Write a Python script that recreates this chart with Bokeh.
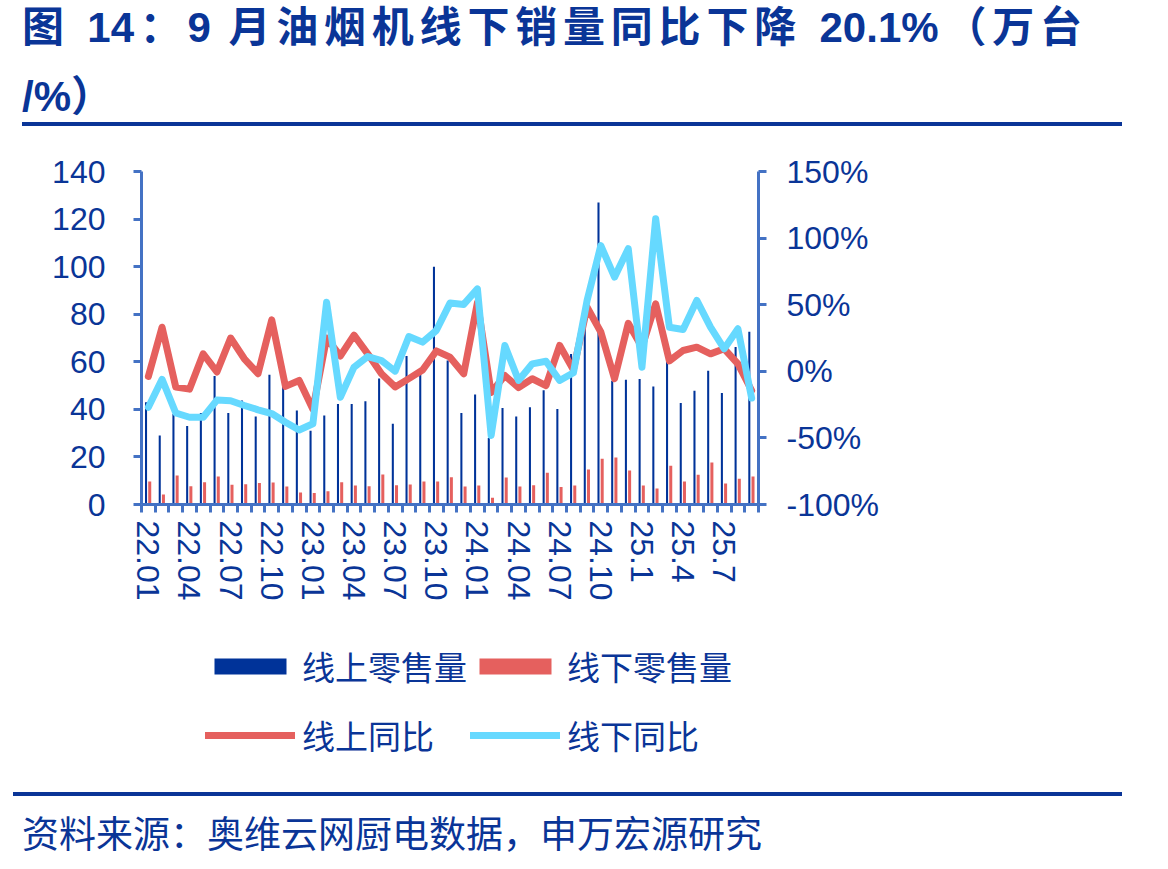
from bokeh.plotting import figure
from bokeh.models import (Range1d, LinearAxis, FixedTicker, PrintfTickFormatter,
                          Legend, LegendItem, ColumnDataSource, Div)
from bokeh.layouts import column
from bokeh.transform import dodge
from bokeh.embed import file_html
from bokeh.resources import INLINE

# ---------------- data ----------------
months = [f"{y}.{m:02d}" for y in (22, 23, 24) for m in range(1, 13)] + \
         [f"25.{m:02d}" for m in range(1, 10)]

tick_labels = ["22.01", "22.04", "22.07", "22.10", "23.01", "23.04", "23.07", "23.10",
               "24.01", "24.04", "24.07", "24.10", "25.1", "25.4", "25.7"]

online_sales = [43, 29, 38, 33, 38.5, 54, 38.5, 43.7, 37, 54.5, 50, 39.5,
                31, 37.4, 42.2, 42.3, 43.4, 53, 33.9, 62.4, 56, 100, 60.5, 38.5,
                46.2, 28, 40.6, 37, 40.9, 48, 40.2, 63.3, 80, 127, 52, 52.4,
                52.8, 49.6, 62, 42.7, 47.8, 56.2, 46.9, 66.2, 72.6]

offline_sales = [9.7, 4.2, 12.2, 7.7, 9.4, 11.8, 8.3, 8.5, 9.0, 9.2, 7.6, 5.0,
                 4.8, 5.6, 9.4, 8.0, 7.7, 12.6, 8.1, 8.4, 9.7, 9.7, 11.5, 7.6,
                 8.0, 2.8, 11.4, 7.6, 8.1, 13.3, 7.4, 8.0, 14.7, 19.2, 19.8, 14.3,
                 8.0, 6.7, 16.3, 9.7, 12.5, 17.7, 8.8, 10.8, 11.8]

online_yoy = [-3.9, 33.1, -11.9, -13.4, 13.1, -0.5, 25.0, 9.4, -1.8, 38.6, -11.3, -6.9,
              -28.5, 25.0, 11.5, 27.2, 13.1, -1.9, -11.7, -5.5, 1.0, 15.3, 10.6, -1.9,
              51.5, -16.0, -3.2, -12.2, -5.6, -10.7, 19.4, 1.2, 48.1, 29.5, -5.6, 36.0,
              18.0, 50.7, 7.8, 15.6, 18.1, 13.1, 16.9, 5.6, -14.4]

offline_yoy = [-27.0, -6.0, -31.3, -34.5, -34.5, -21.6, -22.1, -25.7, -28.9, -31.7, -38.2, -44.1,
               -39.4, 51.9, -19.5, 3.1, 11.1, 8.1, 0.1, 26.1, 21.9, 30.6, 51.2, 50.2,
               61.9, -48.2, 19.4, -6.9, 5.6, 7.5, -6.9, -1.1, 53.2, 94.4, 70.7, 92.0,
               3.1, 114.5, 33.1, 31.4, 53.2, 33.1, 16.9, 31.9, -20.1]

series_names = ["线上零售量", "线下零售量", "线上同比", "线下同比"]

title_line1 = "图 14：9 月油烟机线下销量同比下降 20.1%（万台"
title_line2 = "/%）"
source_text = "资料来源：奥维云网厨电数据，申万宏源研究"

# ---------------- styles ----------------
W = 1168
NAVY = "#0a3597"
BAR_BLUE = "#003399"
RED = "#e5605e"
CYAN = "#66d9ff"
AXIS = "#4472c4"
FONT = "Liberation Sans, Noto Sans CJK SC"
CSS_FONT = "'Liberation Sans', 'Noto Sans CJK SC', sans-serif"

# ---------------- header (title) ----------------
header_html = f"""
<div style="position:relative;width:{W}px;height:140px;margin:0;padding:0;font-family:{CSS_FONT};color:{NAVY};">
  <div style="position:absolute;left:22px;top:0px;width:1060px;height:56px;line-height:56px;
              font-size:42px;font-weight:bold;white-space:nowrap;text-align:justify;
              text-align-last:justify;">{title_line1}</div>
  <div style="position:absolute;left:22px;top:69px;height:56px;line-height:56px;
              font-size:42px;font-weight:bold;white-space:nowrap;">{title_line2}</div>
  <div style="position:absolute;left:22px;top:122px;width:1100px;height:4px;background:{NAVY};"></div>
</div>
"""
hdr = Div(text=header_html, width=W, height=140, margin=0)

# ---------------- main chart ----------------
n = len(months)
src = ColumnDataSource(dict(x=list(range(n)), online=online_sales, offline=offline_sales,
                            online_yoy=online_yoy, offline_yoy=offline_yoy))

p = figure(width=W, height=480, x_range=Range1d(-0.5, n - 0.5), y_range=Range1d(0, 140),
           output_backend="svg", toolbar_location=None, margin=0,
           min_border_left=141, min_border_right=410, min_border_top=31, min_border_bottom=116,
           outline_line_color=None)
p.extra_y_ranges = {"pct": Range1d(-100, 150)}
p.xgrid.visible = False
p.ygrid.visible = False

bar_style_on = dict(fill_color=BAR_BLUE, line_color=None)
bar_style_off = dict(fill_color=RED, line_color=None)
line_style_on = dict(line_color=RED, line_width=7, line_join="round", line_cap="round")
line_style_off = dict(line_color=CYAN, line_width=7, line_join="round", line_cap="round")

p.vbar(x=dodge("x", -0.17), top="online", width=0.15, source=src, **bar_style_on)
p.vbar(x=dodge("x", 0.1), top="offline", width=0.22, source=src, **bar_style_off)
p.line("x", "online_yoy", source=src, y_range_name="pct", **line_style_on)
p.line("x", "offline_yoy", source=src, y_range_name="pct", **line_style_off)

# x axis (labels centred like the reference: pad the short ones)
xa = p.xaxis[0]
xa.ticker = FixedTicker(ticks=list(range(0, n, 3)),
                        minor_ticks=[i - 0.5 for i in range(n + 1)])
xa.major_label_overrides = {i * 3: (lab if len(lab) == 5 else lab + "\u00a0")
                            for i, lab in enumerate(tick_labels)}
xa.major_label_orientation = "vertical"

# left axis
ya = p.yaxis[0]
ya.ticker = FixedTicker(ticks=list(range(0, 141, 20)))

# right axis
ra = LinearAxis(y_range_name="pct", ticker=FixedTicker(ticks=[-100, -50, 0, 50, 100, 150]),
                formatter=PrintfTickFormatter(format="%d%%"))
p.add_layout(ra, "right")

for ax in (xa, ya, ra):
    ax.axis_line_color = AXIS
    ax.axis_line_width = 3
    ax.major_label_text_font = FONT
    ax.major_label_text_font_size = "32px"
    ax.major_label_text_color = NAVY
    ax.minor_tick_line_color = None

for ax in (ya, ra):
    ax.major_tick_line_color = AXIS
    ax.major_tick_line_width = 3
    ax.major_tick_in = 0
    ax.major_tick_out = 8
ya.major_label_standoff = 28
ra.major_label_standoff = 20

xa.major_tick_line_color = None
xa.major_tick_in = 0
xa.major_tick_out = 8
xa.minor_tick_line_color = AXIS
xa.minor_tick_line_width = 3
xa.minor_tick_in = 0
xa.minor_tick_out = 8
xa.major_label_standoff = 8

# ---------------- legend strip (hidden proxies of the same series) ----------------
lg = figure(width=W, height=155, x_range=Range1d(-0.5, n - 0.5), y_range=Range1d(0, 140),
            x_axis_type=None, y_axis_type=None, output_backend="svg", toolbar_location=None,
            margin=0, min_border_left=141, min_border_right=410, min_border_top=0,
            min_border_bottom=0, outline_line_color=None)
lg.xgrid.visible = False
lg.ygrid.visible = False
k1 = lg.vbar(x="x", top="online", width=0.15, source=src, visible=False, **bar_style_on)
k2 = lg.vbar(x="x", top="offline", width=0.22, source=src, visible=False, **bar_style_off)
k3 = lg.line("x", "online_yoy", source=src, visible=False, **line_style_on)
k4 = lg.line("x", "offline_yoy", source=src, visible=False, **line_style_off)

legend_style = dict(orientation="horizontal", glyph_width=90, glyph_height=20,
                    label_standoff=7, label_width=167, spacing=1, padding=0, margin=0,
                    label_text_font=FONT, label_text_font_size="33px",
                    label_text_color=NAVY, border_line_color=None,
                    background_fill_alpha=0, inactive_fill_alpha=0)
leg1 = Legend(items=[LegendItem(label=series_names[0], renderers=[k1]),
                     LegendItem(label=series_names[1], renderers=[k2])],
              location=(64, 85), **legend_style)
leg2 = Legend(items=[LegendItem(label=series_names[2], renderers=[k3]),
                     LegendItem(label=series_names[3], renderers=[k4])],
              location=(64, 16), **legend_style)
lg.add_layout(leg1)
lg.add_layout(leg2)

# ---------------- footer (source) ----------------
footer_html = f"""
<div style="position:relative;width:{W}px;height:94px;margin:0;padding:0;font-family:{CSS_FONT};color:{NAVY};">
  <div style="position:absolute;left:13px;top:17px;width:1109px;height:4px;background:{NAVY};"></div>
  <div style="position:absolute;left:22px;top:36px;height:50px;line-height:50px;
              font-size:37px;white-space:nowrap;">{source_text}</div>
</div>
"""
ftr = Div(text=footer_html, width=W, height=94, margin=0)

page = column(hdr, p, lg, ftr, spacing=0, margin=0)
open("out.html", "w").write(file_html(page, INLINE))
